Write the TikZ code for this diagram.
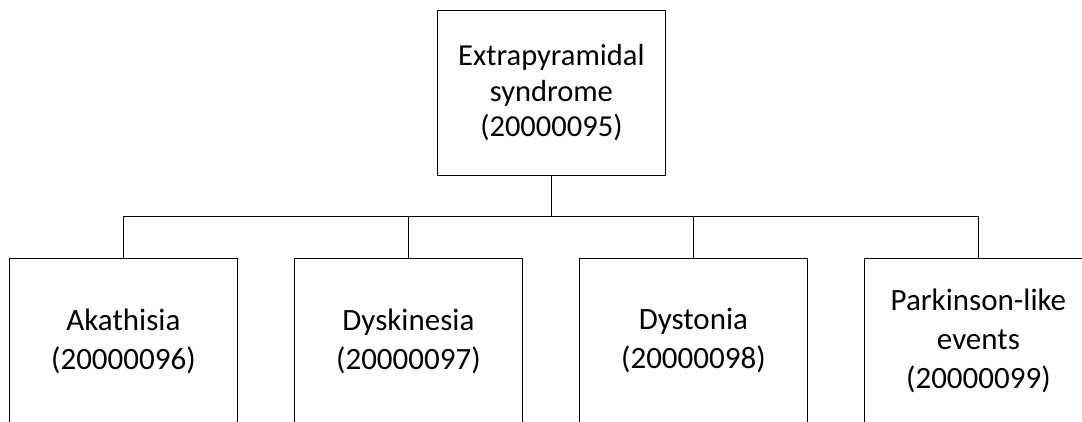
\documentclass[tikz,border=0pt]{standalone}
\usepackage{fontspec}
\setmainfont{Carlito}
\begin{document}
\begin{tikzpicture}[x=1pt,y=-1pt,
  box/.style={draw, line width=0.8pt, minimum width=228pt, minimum height=165pt, inner sep=0pt, align=center, anchor=north west},
  toptext/.style={font=\fontsize{30.5}{35.5}\selectfont},
  bottext/.style={font=\fontsize{31}{39}\selectfont},
  link/.style={draw, line width=0.8pt}]
\path[use as bounding box] (0,0) rectangle (1082,421);
\clip (0,0) rectangle (1082,421);
\node[box, toptext] (top) at (437,10) {Extrapyramidal\\syndrome\\(20000095)};
\node[box, bottext] (b1) at (9,258) {Akathisia\\(20000096)};
\node[box, bottext] (b2) at (294,258) {Dyskinesia\\(20000097)};
\node[box, bottext] (b3) at (579,258) {Dystonia\\(20000098)};
\node[box, bottext] (b4) at (864,258) {Parkinson-like\\events\\(20000099)};
\coordinate (bar) at ([yshift=-41pt]top.south);
\foreach \c in {b1,b2,b3,b4}{
  \path[link] (top.south) -- (bar) -| (\c.north);
}
\end{tikzpicture}
\end{document}
